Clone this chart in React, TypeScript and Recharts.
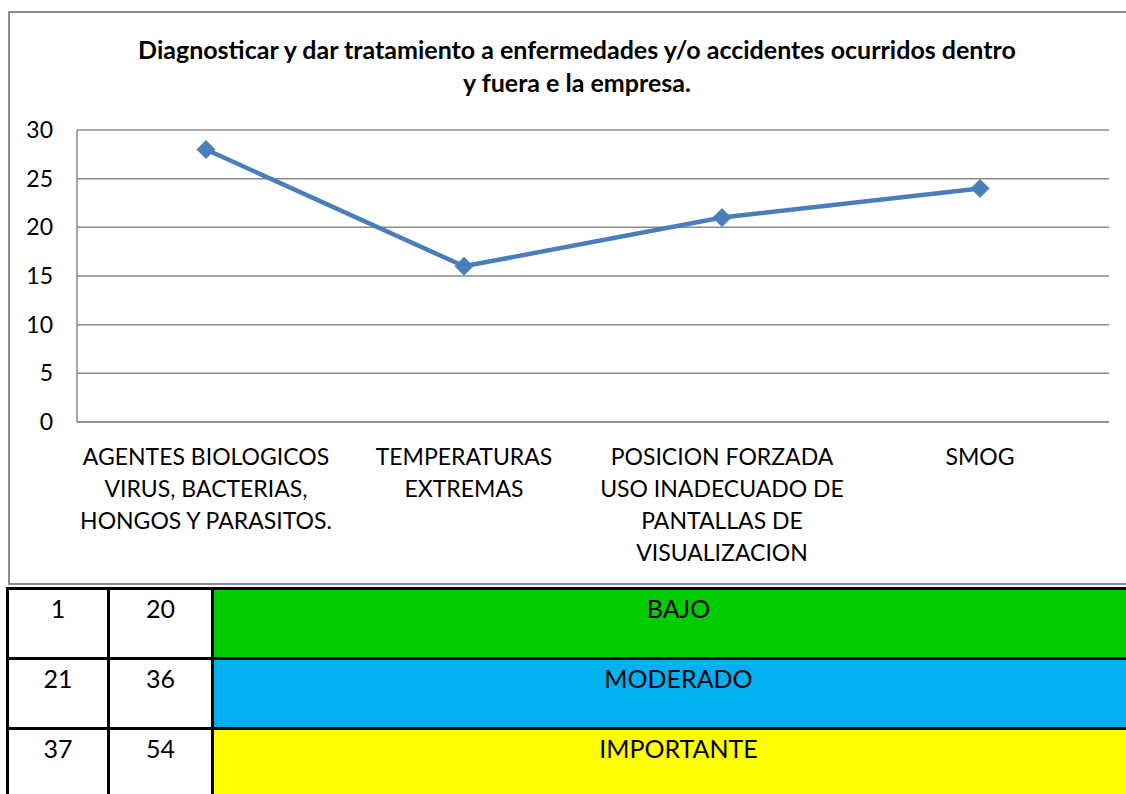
import React from 'react';
import { ComposedChart, Line, XAxis, YAxis, CartesianGrid } from 'recharts';

const categories: string[][] = [
  ['AGENTES BIOLOGICOS', 'VIRUS, BACTERIAS,', 'HONGOS Y PARASITOS.'],
  ['TEMPERATURAS', 'EXTREMAS'],
  ['POSICION FORZADA', 'USO INADECUADO DE', 'PANTALLAS DE', 'VISUALIZACION'],
  ['SMOG'],
];
const values: number[] = [28, 16, 21, 24];
const yTicks: number[] = [0, 5, 10, 15, 20, 25, 30];
const titleLines: string[] = [
  'Diagnosticar y dar tratamiento a enfermedades y/o accidentes ocurridos dentro',
  'y fuera e la empresa.',
];
const rangeLow: number[] = [1, 21, 37];
const rangeHigh: number[] = [20, 36, 54];
const levels: string[] = ['BAJO', 'MODERADO', 'IMPORTANTE'];
const levelColors: string[] = ['#00CC00', '#00B0F0', '#FFFF00'];

const data = categories.map((c, i) => ({ name: c.join('\n'), value: values[i] }));

const FONT = 'Lato, "Open Sans", sans-serif';
const GRID = '#8a8a8a';
const LINE = '#4A7EBB';

const CatTick = (props: any) => {
  const { x, payload } = props;
  const lines = String(payload.value).split('\n');
  return (
    <g>
      {lines.map((l, i) => (
        <text key={i} x={x} y={465 + i * 32} textAnchor="middle" fontSize={23} fontFamily={FONT} fill="#000">
          {l}
        </text>
      ))}
    </g>
  );
};

const Diamond = (props: any) => {
  const { cx, cy, index } = props;
  if (cx == null || cy == null) return null;
  const r = 9;
  return <path key={index} d={`M${cx},${cy - r}L${cx + r},${cy}L${cx},${cy + r}L${cx - r},${cy}Z`} fill={LINE} stroke={LINE} strokeWidth={1} />;
};

const cellBase: React.CSSProperties = { border: '3px solid #000', textAlign: 'center', verticalAlign: 'top', paddingTop: 3, boxSizing: 'border-box' };

export default function App() {
  return (
    <div style={{ position: 'absolute', left: 0, top: 0, width: 1126, height: 794, overflow: 'hidden', background: '#fff', fontFamily: FONT }}>
      <div style={{ position: 'absolute', left: 8, top: 11, width: 1200, height: 574, border: '2px solid #8c8c8c', boxSizing: 'border-box' }} />
      <div style={{ position: 'absolute', left: 0, top: 33, width: 1154, textAlign: 'center', fontWeight: 700, fontSize: 25, lineHeight: '33px', color: '#000' }}>
        {titleLines.map((t, i) => (
          <div key={i}>{t}</div>
        ))}
      </div>
      <div style={{ position: 'absolute', left: 0, top: 0 }}>
        <ComposedChart width={1126} height={586} data={data} margin={{ top: 130, right: 17, bottom: 14, left: 8 }}>
          <CartesianGrid vertical={false} stroke={GRID} strokeWidth={1.5} />
          <XAxis dataKey="name" scale="band" axisLine={{ stroke: GRID, strokeWidth: 1.5 }} tickLine={false} tick={<CatTick />} height={150} interval={0} />
          <YAxis domain={[0, 30]} ticks={yTicks} axisLine={{ stroke: GRID, strokeWidth: 1.5 }} tickLine={false} tickSize={0} tickMargin={24} width={69}
            tick={{ fontSize: 23, fontFamily: FONT, fill: '#000' }} />
          <Line dataKey="value" stroke={LINE} strokeWidth={4.5} dot={<Diamond />} isAnimationActive={false} />
        </ComposedChart>
      </div>
      <table style={{ position: 'absolute', left: 6, top: 587, width: 1140, borderCollapse: 'collapse', fontSize: 25, fontFamily: FONT, color: '#000', tableLayout: 'fixed' }}>
        <colgroup>
          <col style={{ width: 101 }} />
          <col style={{ width: 104 }} />
          <col />
        </colgroup>
        <tbody>
          {levels.map((lv, i) => (
            <tr key={i} style={{ height: 70 }}>
              <td style={cellBase}>{rangeLow[i]}</td>
              <td style={cellBase}>{rangeHigh[i]}</td>
              <td style={{ ...cellBase, background: levelColors[i] }}>{lv}</td>
            </tr>
          ))}
        </tbody>
      </table>
    </div>
  );
}
